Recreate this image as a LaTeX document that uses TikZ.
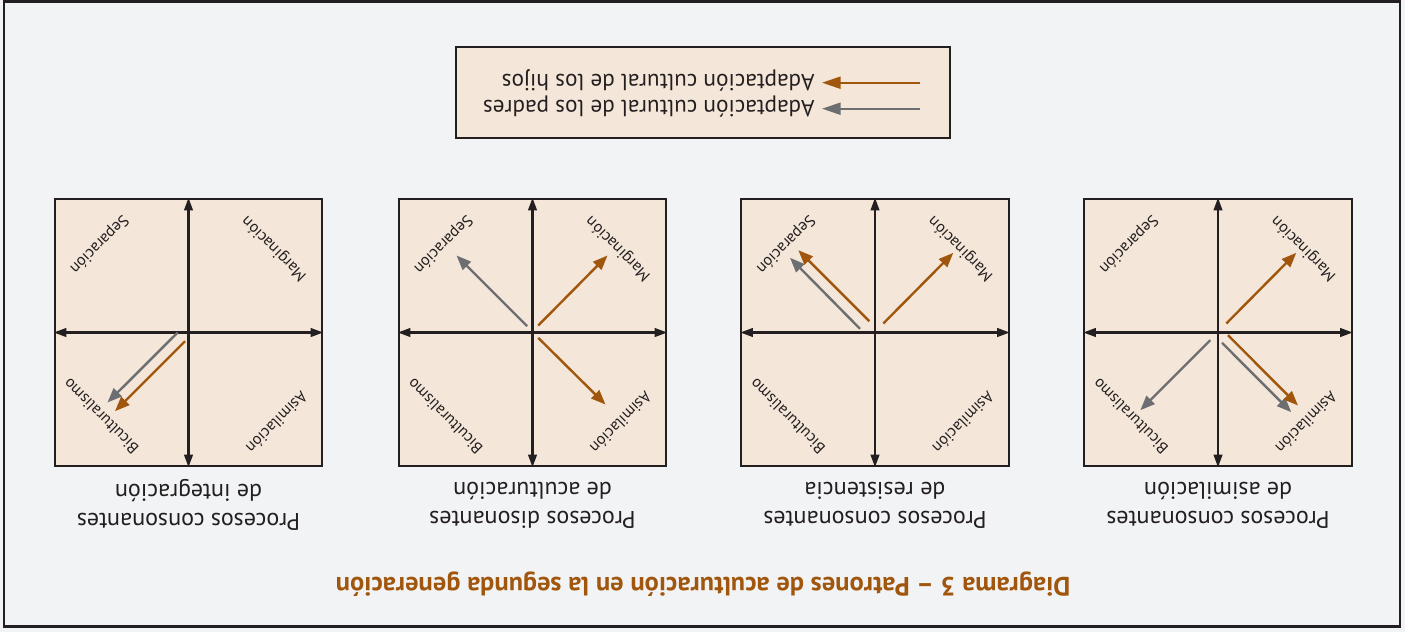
\documentclass[tikz,border=0pt]{standalone}
\usepackage{fontspec}
\setmainfont{PT Sans}
\usetikzlibrary{arrows.meta}
\definecolor{bg}{HTML}{F2F3F5}
\definecolor{boxfill}{HTML}{F4E6D9}
\definecolor{brownA}{HTML}{A0560C}
\definecolor{grayA}{HTML}{6D6E71}
\definecolor{ink}{HTML}{231F20}
\begin{document}
\begin{tikzpicture}[x=0.75pt,y=-0.75pt,
  frame/.style={draw=ink,line width=2.2pt},
  panel/.style={draw=ink,line width=1.6pt,fill=boxfill,minimum width=200.5pt,minimum height=200.5pt,inner sep=0pt},
  legendbox/.style={draw=ink,line width=1.6pt,fill=boxfill,minimum width=370.5pt,minimum height=68.5pt,inner sep=0pt},
  axis/.style={ink,line width=1.6pt,{Triangle[length=9.5pt,width=6.5pt]}-{Triangle[length=9.5pt,width=6.5pt]}},
  hijo/.style={brownA,line width=1.8pt,-{Triangle[length=11pt,width=8.5pt]}},
  padre/.style={grayA,line width=1.8pt,-{Triangle[length=11pt,width=8.5pt]}},
  legarrowH/.style={brownA,line width=1.7pt,-{Triangle[length=14pt,width=9pt]}},
  legarrowP/.style={grayA,line width=1.7pt,-{Triangle[length=14pt,width=9pt]}},
  lab/.style={font=\fontsize{12}{14}\selectfont,text=ink,inner sep=0pt},
  legtext/.style={font=\fontsize{17.4}{20}\selectfont,text=ink,rotate=180,anchor=west,inner sep=0pt},
  captext/.style={font=\fontsize{18}{21.75}\selectfont,text=ink,rotate=180,align=center,inner sep=0pt},
  titletext/.style={font=\bfseries\fontsize{19.8}{22}\selectfont,text=brownA,rotate=180,inner sep=0pt}
]
\useasboundingbox (0,0) rectangle (1405,632);
\fill[bg] (0,0) rectangle (1405,632);
\draw[frame] (4,1.5) rectangle (1400,626.5);

% legend
\node[legendbox] (leg) at (703,92.7) {};
\coordinate (lhS) at (920,82.7);
\coordinate (lhE) at (822,82.7);
\coordinate (lpS) at (920,108.7);
\coordinate (lpE) at (822,108.7);
\draw[legarrowH] (lhS) -- (lhE);
\draw[legarrowP] (lpS) -- (lpE);
\node[legtext] (lh) at (815,80.5) {Adaptación cultural de los hijos};
\node[legtext] (lp) at (815,106.5) {Adaptación cultural de los padres};

% title
\node[titletext] (title) at (703,584) {Diagrama 3 – Patrones de aculturación en la segunda generación};

% panels
\foreach \n/\cx in {1/188.5,2/532.5,3/875,4/1218}{
  \node[panel] (p\n) at (\cx,332.5) {};
  \draw[axis] (p\n.west) -- (p\n.east);
  \draw[axis] (p\n.north) -- (p\n.south);
  \begin{scope}[shift={(\cx,332.5)}]
    \node[lab,rotate=225] (sep\n) at (-89.5,-88.5) {Separación};
    \node[lab,rotate=135] (mar\n) at (86,-84) {Marginación};
    \node[lab,rotate=135] (bic\n) at (-87.5,84) {Biculturalismo};
    \node[lab,rotate=225] (asi\n) at (88.5,90) {Asimilación};
  \end{scope}
}

% panel 1 arrows: integracion
\begin{scope}[shift={(188.5,332.5)}]
  \coordinate (a1s) at (-10.8,0);   \coordinate (a1e) at (-81,70);
  \coordinate (b1s) at (-3.5,8.7);  \coordinate (b1e) at (-73.5,78.7);
  \draw[padre] (a1s) -- (a1e);
  \draw[hijo] (b1s) -- (b1e);
\end{scope}
% panel 2 arrows: disonantes
\begin{scope}[shift={(532.5,332.5)}]
  \coordinate (a2s) at (-5.3,-6.3); \coordinate (a2e) at (-76,-77);
  \coordinate (b2s) at (5.7,-7);    \coordinate (b2e) at (75,-77);
  \coordinate (c2s) at (5.7,5.3);   \coordinate (c2e) at (73,72);
  \draw[padre] (a2s) -- (a2e);
  \draw[hijo] (b2s) -- (b2e);
  \draw[hijo] (c2s) -- (c2e);
\end{scope}
% panel 3 arrows: resistencia
\begin{scope}[shift={(875,332.5)}]
  \coordinate (a3s) at (-15,-3.7);  \coordinate (a3e) at (-85,-74.7);
  \coordinate (b3s) at (-5.7,-11.3);\coordinate (b3e) at (-76.7,-82.3);
  \coordinate (c3s) at (8.3,-9);    \coordinate (c3e) at (78.3,-79.7);
  \draw[padre] (a3s) -- (a3e);
  \draw[hijo] (b3s) -- (b3e);
  \draw[hijo] (c3s) -- (c3e);
\end{scope}
% panel 4 arrows: asimilacion
\begin{scope}[shift={(1218,332.5)}]
  \coordinate (a4s) at (8.3,-9);    \coordinate (a4e) at (78.3,-79.7);
  \coordinate (b4s) at (-7.7,7.7);  \coordinate (b4e) at (-77.7,77.7);
  \coordinate (c4s) at (4,10.3);    \coordinate (c4e) at (73.3,79.7);
  \coordinate (d4s) at (10,2.7);    \coordinate (d4e) at (80,73);
  \draw[hijo] (a4s) -- (a4e);
  \draw[padre] (b4s) -- (b4e);
  \draw[padre] (c4s) -- (c4e);
  \draw[hijo] (d4s) -- (d4e);
\end{scope}

% captions
\node[captext] (c1) at (188.5,505) {Procesos consonantes\\de integración};
\node[captext] (c2) at (532.5,505) {Procesos disonantes\\de aculturación};
\node[captext] (c3) at (875,505) {Procesos consonantes\\de resistencia};
\node[captext] (c4) at (1218,505) {Procesos consonantes\\de asimilación};
\end{tikzpicture}
\end{document}
